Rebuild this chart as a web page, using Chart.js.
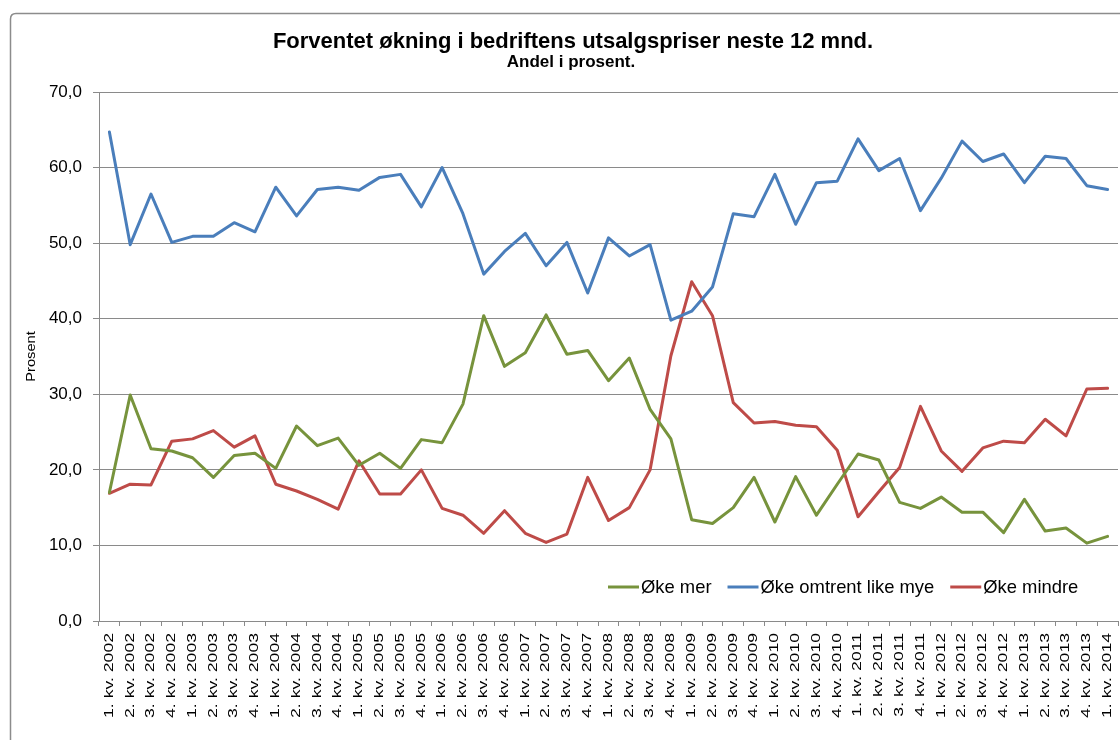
<!DOCTYPE html>
<html>
<head>
<meta charset="utf-8">
<script src="https://cdn.jsdelivr.net/npm/chart.js@4.4.1/dist/chart.umd.min.js"></script>
<style>
  html, body { margin: 0; padding: 0; background: #fff; }
  #wrap { width: 1120px; height: 740px; position: relative; }
</style>
</head>
<body>
<div id="wrap"><canvas id="c" width="1120" height="740"></canvas></div>
<script>
const titleText = "Forventet økning i bedriftens utsalgspriser neste 12 mnd.";
const subtitleText = "Andel i prosent.";
const yAxisTitle = "Prosent";

const categories = [
  "1. kv. 2002","2. kv. 2002","3. kv. 2002","4. kv. 2002",
  "1. kv. 2003","2. kv. 2003","3. kv. 2003","4. kv. 2003",
  "1. kv. 2004","2. kv. 2004","3. kv. 2004","4. kv. 2004",
  "1. kv. 2005","2. kv. 2005","3. kv. 2005","4. kv. 2005",
  "1. kv. 2006","2. kv. 2006","3. kv. 2006","4. kv. 2006",
  "1. kv. 2007","2. kv. 2007","3. kv. 2007","4. kv. 2007",
  "1. kv. 2008","2. kv. 2008","3. kv. 2008","4. kv. 2008",
  "1. kv. 2009","2. kv. 2009","3. kv. 2009","4. kv. 2009",
  "1. kv. 2010","2. kv. 2010","3. kv. 2010","4. kv. 2010",
  "1. kv. 2011","2. kv. 2011","3. kv. 2011","4. kv. 2011",
  "1. kv. 2012","2. kv. 2012","3. kv. 2012","4. kv. 2012",
  "1. kv. 2013","2. kv. 2013","3. kv. 2013","4. kv. 2013",
  "1. kv. 2014"
];

const seriesNames = ["Øke mer", "Øke omtrent like mye", "Øke mindre"];

const okeMer = [17.0,29.9,22.8,22.5,21.6,19.0,21.9,22.2,20.2,25.8,23.2,24.2,20.6,22.2,20.2,24.0,23.6,
  28.7,40.4,33.7,35.5,40.5,35.3,35.8,31.8,34.8,28.0,24.1,13.4,12.9,15.0,19.0,13.1,
  19.1,14.0,18.1,22.1,21.3,15.7,14.9,16.4,14.4,14.4,11.7,16.1,11.9,12.3,10.3,11.2];

const okeOmtrentLikeMye = [64.7,49.8,56.5,50.1,50.9,50.9,52.7,51.5,57.4,53.6,57.1,57.4,57.0,58.7,59.1,54.8,60.0,
  53.9,45.9,48.9,51.3,47.0,50.1,43.4,50.7,48.3,49.8,39.8,41.0,44.2,53.9,53.5,59.1,
  52.5,58.0,58.2,63.8,59.6,61.2,54.3,58.6,63.5,60.8,61.8,58.0,61.5,61.2,57.6,57.1];

const okeMindre = [16.9,18.1,18.0,23.8,24.1,25.2,23.0,24.5,18.1,17.2,16.1,14.8,21.2,16.8,16.8,20.0,14.9,
  14.0,11.6,14.6,11.6,10.4,11.5,19.0,13.3,15.0,20.0,35.1,44.9,40.4,28.9,26.2,26.4,
  25.9,25.7,22.6,13.8,17.1,20.3,28.4,22.5,19.8,22.9,23.8,23.6,26.7,24.5,30.7,30.8];

const yMin = 0, yMax = 70, yStep = 10;

const colors = ["#77933C", "#4A7EBB", "#BE4B48"];
const FONT = "'Liberation Sans', Arial, sans-serif";
const GRID = "#8a8a8a";

// decorations: frame, titles, in-plot legend
const decor = {
  id: 'decor',
  beforeDraw(chart) {
    // stretch rotated texts along their length (as in the reference rendering)
    const xs = chart.scales.x;
    if (!xs._stretched) {
      const origLabels = xs.drawLabels;
      xs.drawLabels = function (a) {
        const c = this.ctx, y0 = this.top + 12;
        c.save(); c.translate(0, y0); c.scale(1, 1.47); c.translate(0, -y0);
        origLabels.call(this, a);
        c.restore();
      };
      xs._stretched = true;
    }
    const ys = chart.scales.y;
    if (!ys._stretched) {
      const origTitle = ys.drawTitle;
      ys.drawTitle = function () {
        const c = this.ctx, y0 = (this.top + this.bottom) / 2;
        c.save(); c.translate(0, y0); c.scale(1, 1.22); c.translate(0, -y0);
        origTitle.call(this);
        c.restore();
      };
      ys._stretched = true;
    }
    const ctx = chart.ctx;
    ctx.save();
    ctx.fillStyle = '#fff';
    ctx.fillRect(0, 0, chart.width, chart.height);
    ctx.strokeStyle = '#8c8c8c';
    ctx.lineWidth = 1.5;
    ctx.beginPath();
    ctx.moveTo(10.5, 760);
    ctx.lineTo(10.5, 19);
    ctx.quadraticCurveTo(10.5, 13.5, 16, 13.5);
    ctx.lineTo(1130, 13.5);
    ctx.stroke();
    ctx.restore();
  },
  afterDraw(chart) {
    const ctx = chart.ctx;
    ctx.save();
    ctx.fillStyle = '#000';
    ctx.textAlign = 'center';
    ctx.textBaseline = 'alphabetic';
    ctx.font = "bold 22px " + FONT;
    ctx.fillText(titleText, 573, 48);
    ctx.font = "bold 17px " + FONT;
    ctx.fillText(subtitleText, 571, 67);

    // legend inside plot area
    ctx.font = "18.4px " + FONT;
    ctx.textAlign = 'left';
    ctx.textBaseline = 'middle';
    let x = 608;
    const y = 587;
    chart.data.datasets.forEach((ds, i) => {
      ctx.strokeStyle = ds.borderColor;
      ctx.lineWidth = 3;
      ctx.beginPath();
      ctx.moveTo(x, y);
      ctx.lineTo(x + 31, y);
      ctx.stroke();
      ctx.fillStyle = '#000';
      ctx.fillText(ds.label, x + 33, y + 1);
      x += 33 + ctx.measureText(ds.label).width + 16;
    });
    ctx.restore();
  }
};

new Chart(document.getElementById('c'), {
  type: 'line',
  data: {
    labels: categories,
    datasets: [
      { label: seriesNames[0], data: okeMer, borderColor: colors[0], backgroundColor: colors[0] },
      { label: seriesNames[1], data: okeOmtrentLikeMye, borderColor: colors[1], backgroundColor: colors[1] },
      { label: seriesNames[2], data: okeMindre, borderColor: colors[2], backgroundColor: colors[2] }
    ]
  },
  options: {
    responsive: false,
    animation: false,
    devicePixelRatio: 1,
    layout: { padding: { left: 11, right: 2, top: 92, bottom: 0 } },
    elements: {
      line: { borderWidth: 3, tension: 0, borderCapStyle: 'round', borderJoinStyle: 'round' },
      point: { radius: 0, hoverRadius: 0 }
    },
    plugins: {
      legend: { display: false },
      title: { display: false },
      tooltip: { enabled: false }
    },
    scales: {
      x: {
        type: 'category',
        offset: true,
        grid: { display: true, drawOnChartArea: false, drawTicks: true, tickLength: 5, color: GRID, offset: true },
        border: { display: true, color: GRID, width: 1 },
        ticks: {
          autoSkip: false, maxRotation: 90, minRotation: 90, padding: 7,
          color: '#000', font: { family: FONT, size: 12 }
        },
        afterFit(s) { s.height = 119; s.paddingLeft = 0; s.paddingRight = 0; }
      },
      y: {
        min: yMin, max: yMax,
        grid: { color: GRID, tickLength: 6, drawTicks: true },
        border: { display: true, color: GRID, width: 1 },
        ticks: {
          stepSize: yStep, padding: 11, color: '#000',
          font: { family: FONT, size: 17 },
          callback: (v) => Number(v).toFixed(1).replace('.', ',')
        },
        title: {
          display: true, text: yAxisTitle, color: '#000',
          font: { family: FONT, size: 12 }, padding: { top: 13, bottom: 0 }
        },
        afterFit(s) { s.width = 88; s.paddingTop = 0; s.paddingBottom = 0; }
      }
    }
  },
  plugins: [decor]
});
</script>
</body>
</html>
